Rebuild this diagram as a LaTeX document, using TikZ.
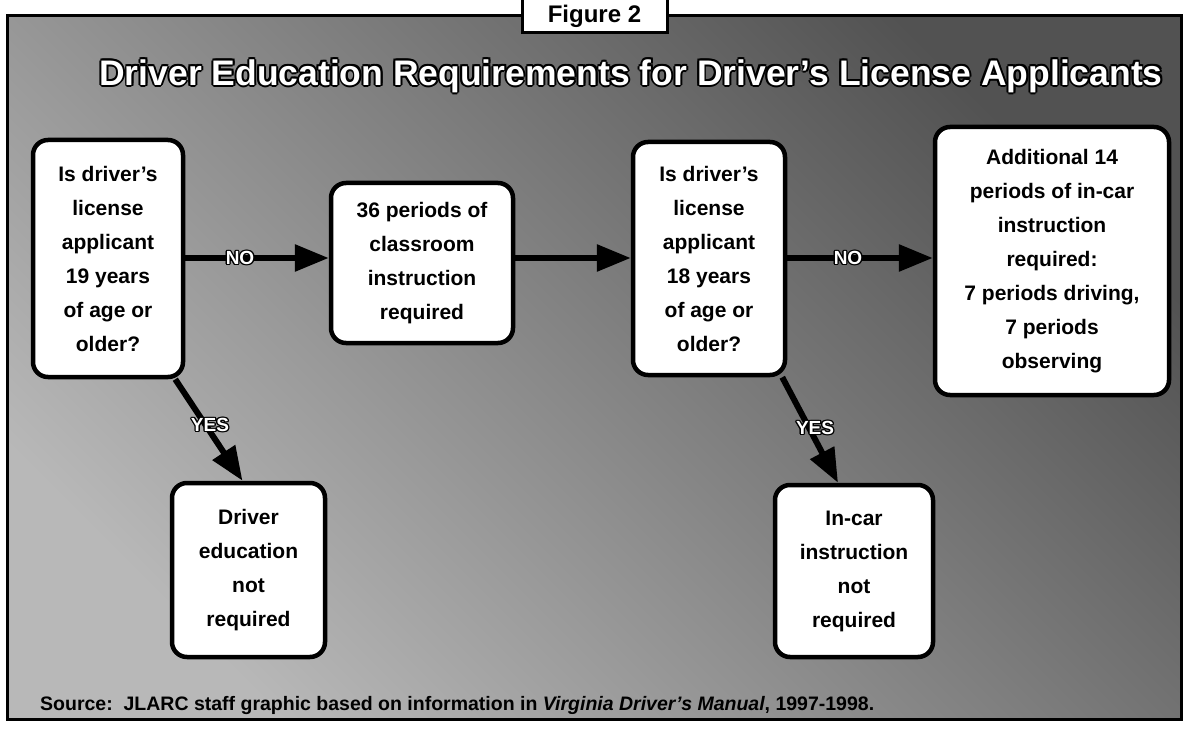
\documentclass[tikz,border=0pt]{standalone}
\usepackage{fontspec}
\setmainfont{Liberation Sans}
\usetikzlibrary{arrows.meta}
\newlength\olw
\newcommand\ocp[3]{\rlap{\hspace*{#1}\raisebox{#2}{\color{black}#3}}}
\newcommand\outl[1]{\ocp{\olw}{0pt}{#1}\ocp{-\olw}{0pt}{#1}\ocp{0pt}{\olw}{#1}\ocp{0pt}{-\olw}{#1}%
\ocp{0.7\olw}{0.7\olw}{#1}\ocp{-0.7\olw}{0.7\olw}{#1}\ocp{0.7\olw}{-0.7\olw}{#1}\ocp{-0.7\olw}{-0.7\olw}{#1}%
{\color{white}#1}}
\begin{document}
\begin{tikzpicture}[x=1pt,y=-1pt,
  stepbox/.style={draw=black, line width=4.5pt, fill=white, rounded corners=15pt, align=center,
    inner sep=0pt, font=\fontsize{21}{34}\selectfont\bfseries},
  flow/.style={draw=black, line width=6pt, -{Triangle[length=34pt,width=26pt]}},
  tag/.style={font=\fontsize{19}{19}\selectfont\bfseries, inner sep=0pt},
]
\useasboundingbox (0,0) rectangle (1188,730);
\fill[white] (0,0) rectangle (1188,730);
\shade[top color=black!68, bottom color=black!28, shading angle=-45] (7,16) rectangle (1181,719);
\draw[line width=3pt] (7,16) rectangle (1181,719);

% figure label
\node[draw, line width=3pt, fill=white, minimum width=145pt, minimum height=34pt, inner sep=0pt,
  font=\fontsize{24}{24}\selectfont\bfseries] (fig) at (594.5,16) {Figure 2};

% title
\node[inner sep=0pt, font=\fontsize{35.5}{36}\selectfont\bfseries] (title) at (631,76)
  {\setlength\olw{1.9pt}\outl{Driver Education Requirements for Driver's License Applicants}};

% boxes
\node[stepbox, minimum width=150pt, minimum height=237pt] (q1) at (108,258.5)
  {Is driver's\\license\\applicant\\19 years\\of age or\\older?};
\node[stepbox, minimum width=182pt, minimum height=160pt] (c2) at (422,263)
  {36 periods of\\classroom\\instruction\\required};
\node[stepbox, minimum width=152pt, minimum height=233pt] (q2) at (709,258.5)
  {Is driver's\\license\\applicant\\18 years\\of age or\\older?};
\node[stepbox, minimum width=234pt, minimum height=268pt] (a4) at (1052,261)
  {Additional 14\\periods of in-car\\instruction\\required:\\7 periods driving,\\7 periods\\observing};
\node[stepbox, minimum width=153pt, minimum height=174pt] (n1) at (248.5,570)
  {Driver\\education\\not\\required};
\node[stepbox, minimum width=158pt, minimum height=172pt] (n2) at (854,571)
  {In-car\\instruction\\not\\required};

% connectors
\coordinate (row) at (0,258);
\draw[flow] (q1.east |- row) -- (c2.west |- row);
\draw[flow] (c2.east |- row) -- (q2.west |- row);
\draw[flow] (q2.east |- row) -- (a4.west |- row);
\draw[flow] ([xshift=-10pt]q1.south east) -- ([xshift=-6pt]n1.north);
\draw[flow] ([xshift=-5pt]q2.south east) -- ([xshift=-16pt]n2.north);

% connector labels
\node[tag] (no1) at (240,258) {\setlength\olw{1.4pt}\outl{NO}};
\node[tag] (no2) at (848,258) {\setlength\olw{1.4pt}\outl{NO}};
\node[tag] (yes1) at (210,425) {\setlength\olw{1.4pt}\outl{YES}};
\node[tag] (yes2) at (815,428) {\setlength\olw{1.4pt}\outl{YES}};

% source
\node[anchor=west, inner sep=0pt, font=\fontsize{19.5}{20}\selectfont\bfseries] (src) at (40,705)
  {Source:\ \ JLARC staff graphic based on information in \textit{Virginia Driver's Manual}, 1997-1998.};
\end{tikzpicture}
\end{document}
